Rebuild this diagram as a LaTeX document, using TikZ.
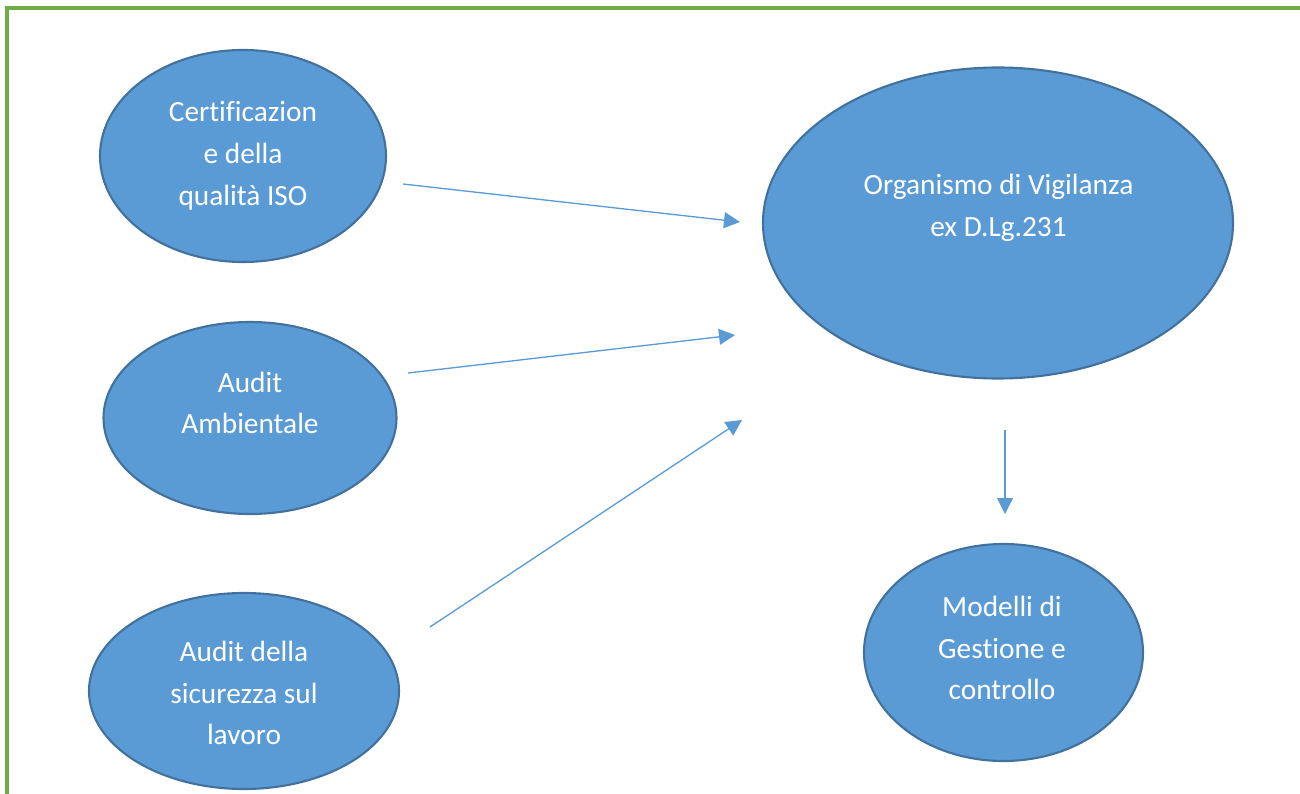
\documentclass[tikz,border=0pt]{standalone}
\usepackage{fontspec}
\setmainfont[Ligatures=NoCommon]{Carlito}
\usetikzlibrary{arrows.meta,shapes.geometric}
\definecolor{sky}{RGB}{91,155,213}
\definecolor{rim}{RGB}{65,113,156}
\definecolor{leaf}{RGB}{112,173,71}
\tikzset{
  >={Triangle[length=3.2mm,width=3.2mm]},
  bubble/.style={ellipse,draw=rim,fill=sky,line width=1.2pt,inner sep=0pt},
  caption/.style={text=white,align=center,inner sep=0pt,
    font=\fontsize{16.7}{23.8}\selectfont},
  link/.style={->,draw=sky,line width=0.75pt},
  frame/.style={draw=leaf,line width=1.8pt},
}
\begin{document}
\begin{tikzpicture}
  \useasboundingbox (0,0) rectangle (26,-15.88);
  % page border (left and top only)
  \draw[frame] (0.14,-15.88) -- (0.14,-0.16) -- (26,-0.16);

  % sources
  \node[bubble,minimum width=5.72cm,minimum height=4.24cm] (iso) at (4.86,-3.12) {};
  \node[caption] (isoTxt) at (4.86,-3.12) {Certificazion\\e della\\qualità ISO};
  \node[bubble,minimum width=5.86cm,minimum height=3.84cm] (amb) at (5.0,-8.36) {};
  \node[caption] (ambTxt) at (5.0,-8.06) {Audit\\Ambientale};
  \node[bubble,minimum width=6.2cm,minimum height=3.92cm] (sic) at (4.88,-13.82) {};
  \node[caption] (sicTxt) at (4.88,-13.86) {Audit della\\sicurezza sul\\lavoro};

  % targets
  \node[bubble,minimum width=9.4cm,minimum height=6.22cm] (odv) at (19.96,-4.46) {};
  \node[caption] (odvTxt) at (19.97,-4.15) {Organismo di Vigilanza\\ex D.Lg.231};
  \node[bubble,minimum width=5.58cm,minimum height=4.34cm] (mod) at (20.07,-13.05) {};
  \node[caption] (modTxt) at (20.04,-12.96) {Modelli di\\Gestione e\\controllo};

  % loose arrow ends
  \coordinate (isoOut) at (8.06,-3.68);
  \coordinate (ambOut) at (8.16,-7.46);
  \coordinate (sicOut) at (8.6,-12.54);
  \coordinate (odvIn1) at (14.8,-4.44);
  \coordinate (odvIn2) at (14.7,-6.7);
  \coordinate (odvIn3) at (14.84,-8.4);
  \coordinate (odvOut) at (20.1,-8.6);
  \coordinate (modIn) at (20.1,-10.28);

  \draw[link] (isoOut) -- (odvIn1);
  \draw[link] (ambOut) -- (odvIn2);
  \draw[link] (sicOut) -- (odvIn3);
  \draw[link] (odvOut) -- (modIn);
\end{tikzpicture}
\end{document}
